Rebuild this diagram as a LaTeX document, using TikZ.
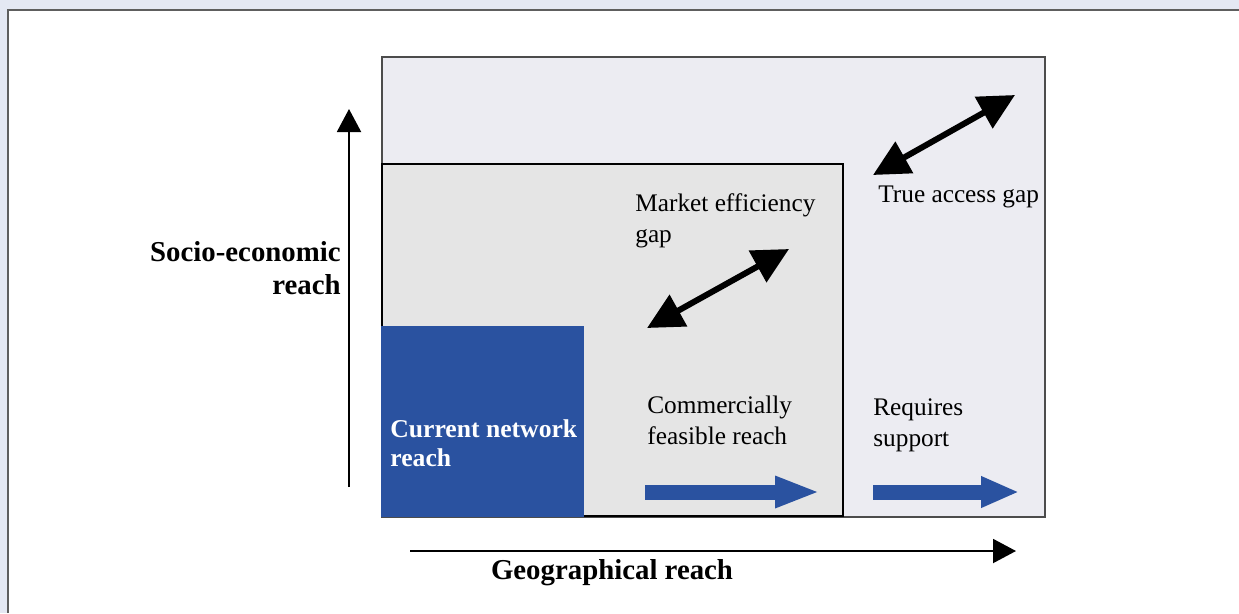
\documentclass[tikz,border=0pt]{standalone}
\usepackage{fontspec}
\setmainfont{Liberation Serif}
\usetikzlibrary{arrows.meta}

\definecolor{pagebg}{HTML}{E4E8F3}
\definecolor{framegray}{HTML}{5E5E5E}
\definecolor{gapfill}{HTML}{ECECF2}
\definecolor{feasfill}{HTML}{E5E5E5}
\definecolor{reachblue}{HTML}{2A52A0}

\tikzset{
	axis/.style={line width=0.04cm, -{Triangle[length=0.46cm,width=0.48cm]}},
	gaparrow/.style={line width=0.12cm, {Triangle[length=0.72cm,width=0.7cm]}-{Triangle[length=0.72cm,width=0.7cm]}},
	pusharrow/.style={reachblue, line width=0.3cm},
	txt/.style={anchor=west, align=left, inner sep=0pt, font=\fontsize{14.4}{17.5}\selectfont},
	axtxt/.style={inner sep=0pt, font=\bfseries\fontsize{16.4}{19}\selectfont}
}

\begin{document}
\begin{tikzpicture}[x=0.02cm,y=-0.02cm]
	\useasboundingbox (0,0) rectangle (1239,613);
	\fill[pagebg] (0,0) rectangle (1239,613);
	\fill[white] (8,10) rectangle (1239,613);
	\draw[framegray, line width=0.05cm] (8,613) -- (8,10) -- (1239,10);

	\filldraw[fill=gapfill, draw=black!70, line width=0.025cm] (382,57) rectangle (1045,517);
	\filldraw[fill=feasfill, draw=black, line width=0.04cm] (382,164) rectangle (843,516);
	\fill[reachblue] (381,326) rectangle (584,517);

	\node[txt, text=white, font=\bfseries\fontsize{14.6}{16.5}\selectfont] (current) at (390,443) {Current network\\reach};
	\node[txt] (market) at (635,221) {Market efficiency\\gap};
	\node[txt] (trueacc) at (878,197) {True access gap};
	\node[txt] (commerce) at (647,420) {Commercially\\feasible reach};
	\node[txt] (support) at (873,425) {Requires\\support};
	\node[axtxt, anchor=east, align=right] (socio) at (341,268) {Socio-economic\\reach};
	\node[axtxt] (geo) at (612,573) {Geographical reach};

	\coordinate (ybot) at (349,487);
	\coordinate (ytop) at (349,109);
	\coordinate (xleft) at (410,551);
	\coordinate (xright) at (1016,551);
	\draw[axis] (ybot) -- (ytop);
	\draw[axis] (xleft) -- (xright);

	\coordinate (meg1) at (647,328);
	\coordinate (meg2) at (789,249);
	\coordinate (tag1) at (873,175);
	\coordinate (tag2) at (1015,95);
	\draw[gaparrow] (meg1) -- (meg2);
	\draw[gaparrow] (tag1) -- (tag2);

	\coordinate (cf1) at (645,492);
	\coordinate (cf2) at (820,492);
	\coordinate (rs1) at (873,492);
	\coordinate (rs2) at (1019,492);
	\draw[pusharrow, -{Triangle[length=0.9cm,width=0.58cm]}] (cf1) -- (cf2);
	\draw[pusharrow, -{Triangle[length=0.76cm,width=0.58cm]}] (rs1) -- (rs2);
\end{tikzpicture}
\end{document}
